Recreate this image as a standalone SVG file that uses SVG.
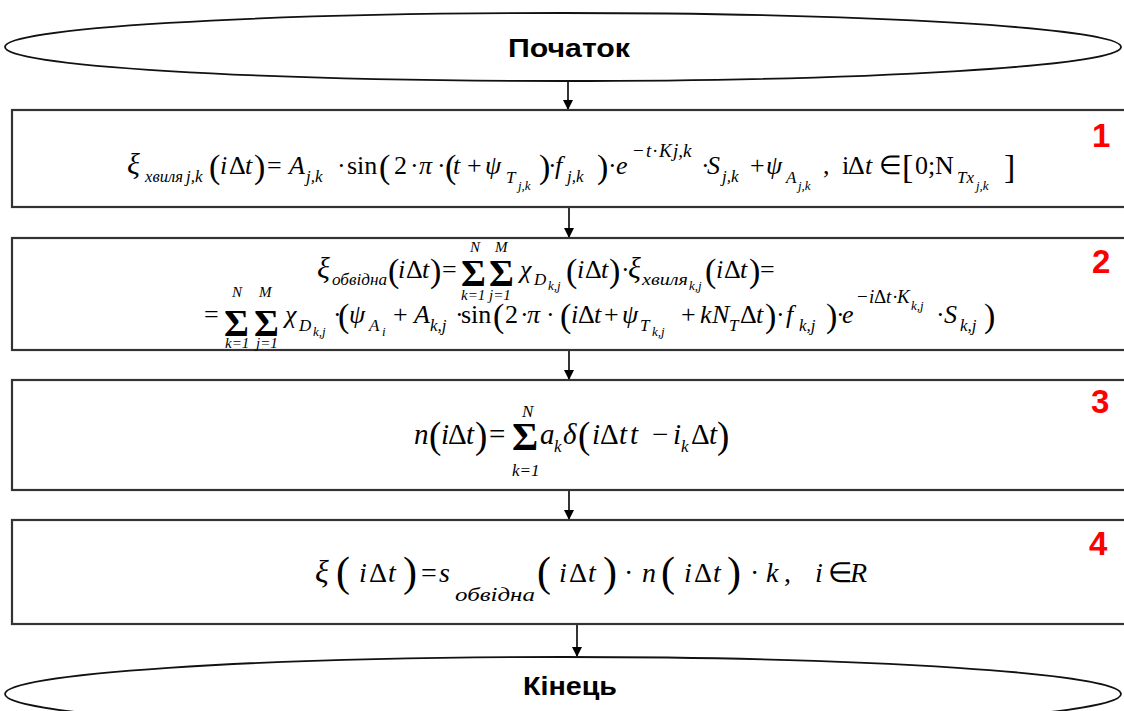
<svg xmlns="http://www.w3.org/2000/svg" width="1124" height="711" viewBox="0 0 1124 711">
<defs>
<marker id="ah" markerWidth="10" markerHeight="12" refX="9" refY="5" orient="auto" markerUnits="userSpaceOnUse">
<path d="M0,0 L10,5 L0,10 Z" fill="#000"/>
</marker>
<style>
.box{fill:#fff;stroke:#333;stroke-width:2.2}
.ell{fill:#fff;stroke:#111;stroke-width:1.8}
.con{stroke:#000;stroke-width:1.6;fill:none}
.lbl{font-family:"Liberation Sans",Arial,sans-serif;font-weight:bold;font-size:25px;fill:#000}
.num{font-family:"Liberation Sans",Arial,sans-serif;font-weight:bold;font-size:33px;fill:#ff0000}
.f{font-family:"Liberation Serif","Times New Roman",serif;font-size:26px;fill:#000}
.i{font-style:italic}
.s1{font-size:17px}
.s2{font-size:13px}
.lim{font-size:15px;font-style:italic}
.sp{font-size:19px}
.p{font-size:34px}
.P{font-size:42px}
.sg{font-size:38px;font-weight:bold}
.xi{font-size:30px}
</style>
</defs>

<g id="connectors">
<line class="con" x1="568" y1="82" x2="568" y2="109" marker-end="url(#ah)"/>
<line class="con" x1="569" y1="207" x2="569" y2="237" marker-end="url(#ah)"/>
<line class="con" x1="569" y1="350" x2="569" y2="379" marker-end="url(#ah)"/>
<line class="con" x1="569" y1="490" x2="569" y2="519" marker-end="url(#ah)"/>
<line class="con" x1="577" y1="624" x2="577" y2="656" marker-end="url(#ah)"/>
</g>

<g id="start">
<ellipse class="ell" cx="563" cy="47" rx="558" ry="34"/>
<text class="lbl" x="569" y="57" text-anchor="middle" textLength="122" lengthAdjust="spacingAndGlyphs">Початок</text>
</g>

<g id="step1">
<rect class="box" x="12" y="110" width="1130" height="97"/>
<text class="num" x="1092" y="147">1</text>
<g class="f">
<text class="i xi" x="127" y="174">ξ</text>
<text class="i s1" x="145" y="182" textLength="38" lengthAdjust="spacingAndGlyphs">хвиля</text>
<text class="i s1" x="186" y="182">j,k</text>
<text class="p" x="209" y="178">(</text>
<text class="i" x="220" y="174">i</text>
<text x="229" y="174">Δ</text>
<text class="i" x="245" y="174">t</text>
<text class="p" x="254" y="178">)</text>
<text x="267" y="174">=</text>
<text class="i" x="289" y="174">A</text>
<text class="i s1" x="306" y="182">j,k</text>
<text x="337" y="174">·</text>
<text x="347" y="174">sin</text>
<text class="p" x="379" y="178">(</text>
<text x="394" y="174">2</text>
<text x="410" y="174">·</text>
<text class="i" x="419" y="174">π</text>
<text x="437" y="174">·</text>
<text class="p" x="445" y="178">(</text>
<text class="i" x="453" y="174">t</text>
<text x="467" y="174">+</text>
<text class="i" x="485" y="174">ψ</text>
<text class="i s1" x="506" y="183">T</text>
<text class="i s2" x="518" y="190">j,k</text>
<text class="p" x="539" y="178">)</text>
<text x="548" y="174">·</text>
<text class="i" x="555" y="174">f</text>
<text class="i s1" x="567" y="182">j,k</text>
<text class="p" x="597" y="178">)</text>
<text x="608" y="174">·</text>
<text class="i" x="616" y="174">e</text>
<text class="sp" x="633" y="157">−</text>
<text class="i sp" x="646" y="157">t</text>
<text class="sp" x="652" y="157">·</text>
<text class="i sp" x="659" y="157">K</text>
<text class="i sp" x="673" y="157">j,k</text>
<text x="701" y="174">·</text>
<text class="i" x="707" y="174">S</text>
<text class="i s1" x="722" y="182">j,k</text>
<text x="750" y="174">+</text>
<text class="i" x="766" y="174">ψ</text>
<text class="i s1" x="786" y="183">A</text>
<text class="i s2" x="798" y="190">j,k</text>
<text x="823" y="174">,</text>
<text x="842" y="174">i</text>
<text x="848" y="174">Δ</text>
<text class="i" x="865" y="174">t</text>
<text x="879" y="174">∈</text>
<text class="p" x="902" y="178">[</text>
<text x="915" y="174">0</text>
<text x="928" y="174">;</text>
<text x="935" y="174">N</text>
<text class="i s1" x="957" y="183">Tx</text>
<text class="i s2" x="976" y="190">j,k</text>
<text class="p" x="1004" y="178">]</text>
</g>
</g>

<g id="step2">
<rect class="box" x="12" y="238" width="1130" height="112"/>
<text class="num" x="1092" y="273">2</text>
<g class="f">
<text class="i xi" x="317" y="278">ξ</text>
<text class="i s1" x="332" y="285" textLength="55" lengthAdjust="spacingAndGlyphs">обвідна</text>
<text class="p" x="388" y="282">(</text>
<text class="i" x="398" y="278">i</text>
<text x="406" y="278">Δ</text>
<text class="i" x="422" y="278">t</text>
<text class="p" x="430" y="282">)</text>
<text x="442" y="278">=</text>
<text class="sg" x="461" y="286">Σ</text>
<text class="lim" x="470" y="252">N</text>
<text class="lim" x="461" y="300">k=1</text>
<text class="sg" x="489" y="286">Σ</text>
<text class="lim" x="495" y="252">M</text>
<text class="lim" x="489" y="300">j=1</text>
<text class="i" x="520" y="278">χ</text>
<text class="i s1" x="534" y="285">D</text>
<text class="i s2" x="548" y="290">k,j</text>
<text class="p" x="566" y="282">(</text>
<text class="i" x="577" y="278">i</text>
<text x="585" y="278">Δ</text>
<text class="i" x="601" y="278">t</text>
<text class="p" x="609" y="282">)</text>
<text x="621" y="278">·</text>
<text class="i xi" x="628" y="278">ξ</text>
<text class="i s1" x="642" y="285" textLength="46" lengthAdjust="spacingAndGlyphs">хвиля</text>
<text class="i s2" x="689" y="290">k,j</text>
<text class="p" x="705" y="282">(</text>
<text class="i" x="716" y="278">i</text>
<text x="724" y="278">Δ</text>
<text class="i" x="740" y="278">t</text>
<text class="p" x="749" y="282">)</text>
<text x="760" y="278">=</text>

<text x="204" y="323">=</text>
<text class="sg" x="224" y="336">Σ</text>
<text class="lim" x="232" y="297">N</text>
<text class="lim" x="225" y="348">k=1</text>
<text class="sg" x="254" y="336">Σ</text>
<text class="lim" x="259" y="297">M</text>
<text class="lim" x="256" y="348">j=1</text>
<text class="i" x="285" y="323">χ</text>
<text class="i s1" x="299" y="331">D</text>
<text class="i s2" x="313" y="336">k,j</text>
<text x="333" y="323">·</text>
<text class="p" x="338" y="327">(</text>
<text class="i" x="349" y="323">ψ</text>
<text class="i s1" x="369" y="331">A</text>
<text class="i s2" x="382" y="336">i</text>
<text x="393" y="323">+</text>
<text class="i" x="414" y="323">A</text>
<text class="i s1" x="430" y="331">k,j</text>
<text x="455" y="323">·</text>
<text x="461" y="323">sin</text>
<text class="p" x="493" y="327">(</text>
<text x="505" y="323">2</text>
<text x="520" y="323">·</text>
<text class="i" x="527" y="323">π</text>
<text x="546" y="323">·</text>
<text class="p" x="560" y="327">(</text>
<text class="i" x="571" y="323">i</text>
<text x="578" y="323">Δ</text>
<text class="i" x="594" y="323">t</text>
<text x="604" y="323">+</text>
<text class="i" x="622" y="323">ψ</text>
<text class="i s1" x="640" y="331">T</text>
<text class="i s2" x="652" y="336">k,j</text>
<text x="681" y="323">+</text>
<text class="i" x="700" y="323">k</text>
<text class="i" x="712" y="323">N</text>
<text class="i s1" x="729" y="331">T</text>
<text x="740" y="323">Δ</text>
<text class="i" x="756" y="323">t</text>
<text class="p" x="765" y="327">)</text>
<text x="776" y="323">·</text>
<text class="i" x="786" y="323">f</text>
<text class="i s1" x="799" y="331">k,j</text>
<text class="p" x="826" y="327">)</text>
<text x="836" y="323">·</text>
<text class="i" x="842" y="323">e</text>
<text class="sp" x="857" y="303">−</text>
<text class="i sp" x="869" y="303">i</text>
<text class="sp" x="874" y="303">Δ</text>
<text class="i sp" x="886" y="303">t</text>
<text class="sp" x="892" y="303">·</text>
<text class="i sp" x="897" y="303">K</text>
<text class="i s2" x="911" y="310">k,j</text>
<text x="936" y="323">·</text>
<text class="i" x="944" y="323">S</text>
<text class="i s1" x="960" y="331">k,j</text>
<text class="p" x="984" y="327">)</text>
</g>
</g>

<g id="step3">
<rect class="box" x="12" y="380" width="1130" height="110"/>
<text class="num" x="1091" y="413">3</text>
<g class="f" style="font-size:29px">
<text class="i" x="414" y="444">n</text>
<text class="p" x="429" y="448" style="font-size:37px">(</text>
<text class="i" x="441" y="444">i</text>
<text x="448" y="444">Δ</text>
<text class="i" x="466" y="444">t</text>
<text class="p" x="475" y="448" style="font-size:37px">)</text>
<text x="489" y="444">=</text>
<text class="sg" x="512" y="450" style="font-size:40px">Σ</text>
<text class="i s1" x="522" y="417">N</text>
<text class="i s1" x="512" y="476">k=1</text>
<text class="i" x="540" y="444">a</text>
<text class="i s1" x="554" y="452">k</text>
<text class="i" x="563" y="444">δ</text>
<text class="p" x="578" y="448" style="font-size:37px">(</text>
<text class="i" x="592" y="444">i</text>
<text x="600" y="444">Δ</text>
<text class="i" x="619" y="444">t</text>
<text class="i" x="630" y="444">t</text>
<text x="652" y="444">−</text>
<text class="i" x="673" y="444">i</text>
<text class="i s1" x="681" y="452">k</text>
<text x="691" y="444">Δ</text>
<text class="i" x="709" y="444">t</text>
<text class="p" x="717" y="448" style="font-size:37px">)</text>
</g>
</g>

<g id="step4">
<rect class="box" x="12" y="520" width="1130" height="104"/>
<text class="num" x="1089" y="555">4</text>
<g class="f" style="font-size:28px">
<text class="i" style="font-size:32px" x="315" y="582">ξ</text>
<text class="P" x="336" y="586">(</text>
<text class="i" x="359" y="582">i</text>
<text x="369" y="582">Δ</text>
<text class="i" x="388" y="582">t</text>
<text class="P" x="403" y="586">)</text>
<text x="421" y="582">=</text>
<text class="i" x="439" y="582">s</text>
<text class="i" style="font-size:19px" x="455" y="601" textLength="80" lengthAdjust="spacingAndGlyphs">обвідна</text>
<text class="P" x="537" y="586">(</text>
<text class="i" x="559" y="582">i</text>
<text x="569" y="582">Δ</text>
<text class="i" x="588" y="582">t</text>
<text class="P" x="603" y="586">)</text>
<text x="624" y="582">·</text>
<text class="i" x="642" y="582">n</text>
<text class="P" x="661" y="586">(</text>
<text class="i" x="684" y="582">i</text>
<text x="694" y="582">Δ</text>
<text class="i" x="713" y="582">t</text>
<text class="P" x="727" y="586">)</text>
<text x="750" y="582">·</text>
<text class="i" x="766" y="582">k</text>
<text x="784" y="582">,</text>
<text class="i" x="815" y="582">i</text>
<text x="828" y="582">∈</text>
<text class="i" x="850" y="582">R</text>
</g>
</g>

<g id="end">
<ellipse class="ell" cx="563" cy="694" rx="558" ry="37"/>
<text class="lbl" x="570" y="695" text-anchor="middle" textLength="94" lengthAdjust="spacingAndGlyphs">Кінець</text>
</g>
</svg>
